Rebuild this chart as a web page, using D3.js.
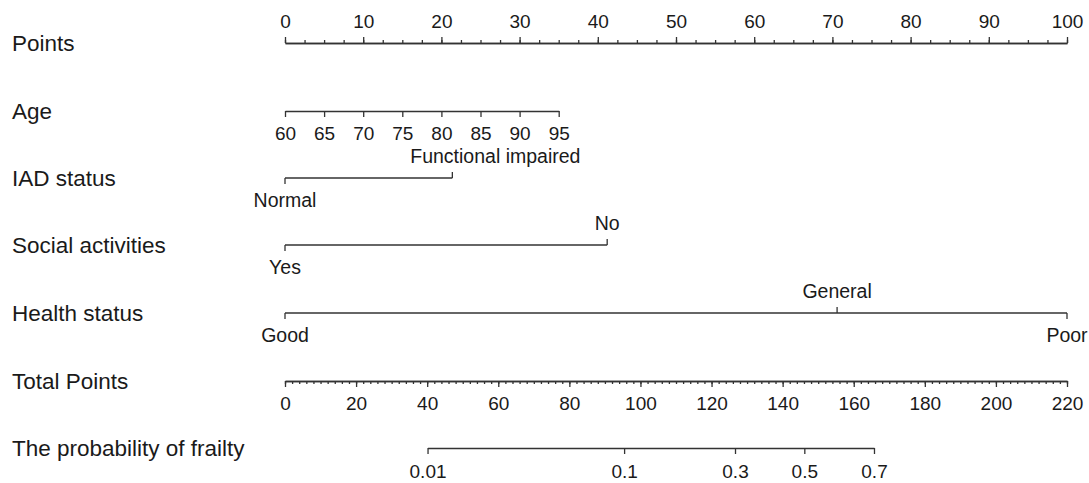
<!DOCTYPE html>
<html>
<head>
<meta charset="utf-8">
<script src="https://cdn.jsdelivr.net/npm/d3@7"></script>
<style>
body { margin: 0; background: #fff; }
svg text { font-family: "Liberation Sans", Arial, sans-serif; fill: #1a1a1a; }
.domain, .tick line { stroke: #333; stroke-width: 1.3; }
</style>
</head>
<body>
<svg id="chart" width="1089" height="483"></svg>
<script>
// values
var rowNames = ["Points", "Age", "IAD status", "Social activities", "Health status", "Total Points", "The probability of frailty"];

var pointsMajor = d3.range(0, 101, 10);
var pointsMinor = d3.range(0, 100.1, 2.5);

var ageValues = [60, 65, 70, 75, 80, 85, 90, 95];
var ageMaxPoints = 35;

var iadLevels = ["Normal", "Functional impaired"];
var iadPoints = [0, 21.4];

var socialLevels = ["Yes", "No"];
var socialPoints = [0, 41.2];

var healthLevels = ["Good", "General", "Poor"];
var healthPoints = [0, 70.6, 100];

var totalMajor = d3.range(0, 221, 20);
var totalMinor = d3.range(0, 221, 2);

var probLabels = ["0.01", "0.1", "0.3", "0.5", "0.7"];
var probTotal = [40.1, 95.4, 126.6, 146.1, 165.7];

window.onload = function() {
	drawNomogram();
}

function drawNomogram() {
	var svg = d3.select("#chart");
	var x0 = 285, x1 = 1067;
	var rowY = [43, 111, 178, 245, 313, 381, 448];

	var pointsScale = d3.scaleLinear().domain([0, 100]).range([x0, x1]);
	var totalScale = d3.scaleLinear().domain([0, 220]).range([x0, x1]);
	var ageScale = d3.scaleLinear().domain([60, 95]).range([pointsScale(0), pointsScale(ageMaxPoints)]);
	var probExtent = d3.extent(probTotal);
	var probScale = d3.scaleLinear().domain(probExtent).range(probExtent.map(totalScale));

	// row names on the left
	svg.append("g")
		.selectAll("text")
		.data(rowNames)
		.enter().append("text")
		.attr("x", 12)
		.attr("y", (d, i) => rowY[i] + 8)
		.attr("font-size", 22.5)
		.text(d => d);

	// Points
	var gp = svg.append("g").attr("transform", "translate(0," + rowY[0] + ")");
	gp.append("g").call(d3.axisTop(pointsScale).tickValues(pointsMinor).tickSize(3).tickSizeOuter(0).tickFormat(""));
	gp.append("g").call(d3.axisTop(pointsScale).tickValues(pointsMajor).tickSize(6).tickSizeOuter(0).tickPadding(9));

	// Age
	var ga = svg.append("g").attr("transform", "translate(0," + rowY[1] + ")");
	ga.append("g").call(d3.axisBottom(ageScale).tickValues(ageValues).tickSize(6).tickSizeOuter(0).tickPadding(10));

	// categorical rows (the long IAD label sits right of its tick)
	categoryAxis(svg, rowY[2], iadLevels, iadPoints, pointsScale, [0, 43]);
	categoryAxis(svg, rowY[3], socialLevels, socialPoints, pointsScale);
	categoryAxis(svg, rowY[4], healthLevels, healthPoints, pointsScale);

	// Total Points
	var gt = svg.append("g").attr("transform", "translate(0," + rowY[5] + ")");
	gt.append("g").call(d3.axisBottom(totalScale).tickValues(totalMinor).tickSize(3).tickSizeOuter(0).tickFormat(""));
	gt.append("g").call(d3.axisBottom(totalScale).tickValues(totalMajor).tickSize(6).tickSizeOuter(0).tickPadding(10));

	// probability
	var gr = svg.append("g").attr("transform", "translate(0," + rowY[6] + ")");
	gr.append("g").call(d3.axisBottom(probScale)
		.tickValues(probTotal)
		.tickSize(6)
		.tickSizeOuter(0)
		.tickPadding(11)
		.tickFormat((d, i) => probLabels[i]));

	svg.selectAll(".tick text")
		.attr("font-size", 19)
		.attr("font-family", null)
		.attr("fill", "#1a1a1a");
	svg.selectAll(".domain").attr("stroke", "#333");
	svg.selectAll(".tick line").attr("stroke", "#333");
}

function categoryAxis(svg, y, levels, pts, scale, shift) {
	var g = svg.append("g").attr("transform", "translate(0," + y + ")");
	var xs = pts.map(p => scale(p));
	shift = shift || levels.map(() => 0);

	g.append("line")
		.attr("class", "domain")
		.attr("x1", d3.min(xs))
		.attr("x2", d3.max(xs))
		.attr("y1", 0)
		.attr("y2", 0);

	// even levels below the line, odd levels above
	g.selectAll(".tick")
		.data(levels)
		.enter().append("line")
		.attr("class", "tick")
		.attr("x1", (d, i) => xs[i])
		.attr("x2", (d, i) => xs[i])
		.attr("y1", 0)
		.attr("y2", (d, i) => i % 2 == 0 ? 6 : -6)
		.style("stroke", "#333")
		.style("stroke-width", 1.3);

	g.selectAll("text")
		.data(levels)
		.enter().append("text")
		.attr("x", (d, i) => xs[i] + shift[i])
		.attr("y", (d, i) => i % 2 == 0 ? 29 : -15)
		.attr("text-anchor", "middle")
		.attr("font-size", 19.5)
		.text(d => d);
}
</script>
</body>
</html>
